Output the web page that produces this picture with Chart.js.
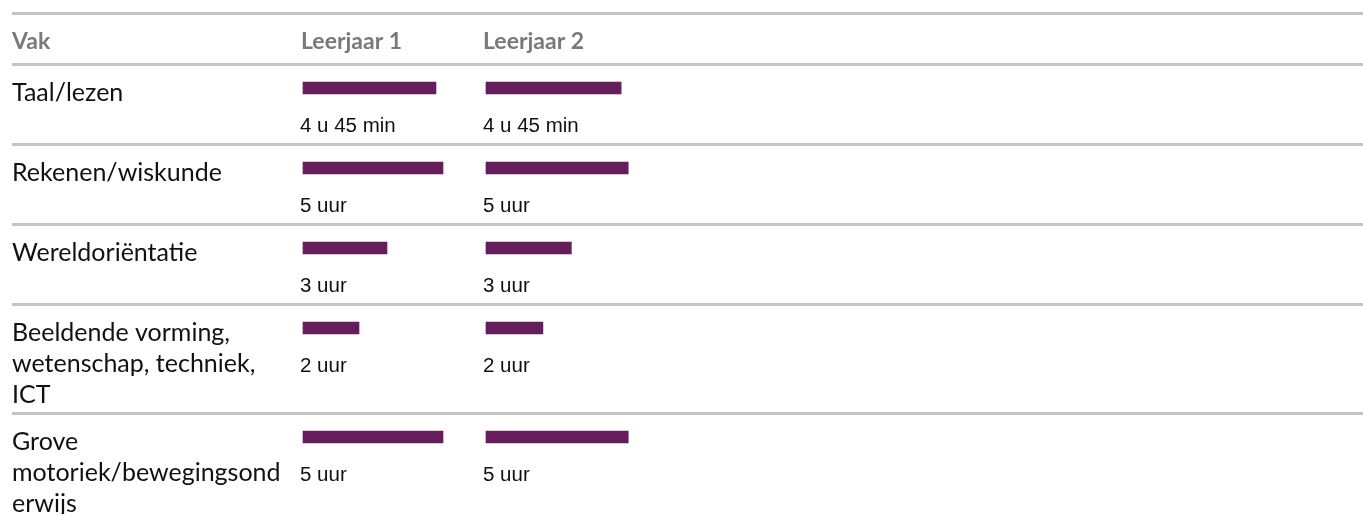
<!DOCTYPE html>
<html lang="nl">
<head>
<meta charset="utf-8">
<title>Uren per vak</title>
<script src="https://cdn.jsdelivr.net/npm/chart.js@4/dist/chart.umd.min.js"></script>
<style>
  html, body { margin: 0; padding: 0; background: #fff; }
  #wrap { position: relative; width: 1363px; height: 514px; }
</style>
</head>
<body>
<div id="wrap"><canvas id="urenChart"></canvas></div>
<script>
// data
const vakken = [
  'Taal/lezen',
  'Rekenen/wiskunde',
  'Wereldoriëntatie',
  ['Beeldende vorming,', 'wetenschap, techniek,', 'ICT'],
  ['Grove', 'motoriek/bewegingsond', 'erwijs']
];
const kolomTitels = ['Vak', 'Leerjaar 1', 'Leerjaar 2'];
const leerjaar1Uren = [4.75, 5, 3, 2, 5];
const leerjaar2Uren = [4.75, 5, 3, 2, 5];

// layout
const W = 1363, H = 514;
const RULE = 3, RULE_COLOR = '#c4c4c4';
const FIRST_RULE = 12, HEADER_H = 48;
const MIN_ROW = 77, LABEL_PAD = 10, LABEL_LH = 31;
const colLeft = [303, 486];
const pxPerHour = [28, 28.45];
const BAR_COLOR = '#661d5b';

function lines(label) {
  return Array.isArray(label) ? label : [label];
}

// row tops and heights from the number of label lines
const rows = [];
let rowTop = FIRST_RULE + RULE + HEADER_H + RULE;
vakken.forEach(v => {
  const h = Math.max(MIN_ROW, LABEL_PAD + lines(v).length * LABEL_LH + 3);
  rows.push({ top: rowTop, h: h });
  rowTop += h + RULE;
});

function duur(uren) {
  const u = Math.floor(uren);
  const min = Math.round((uren - u) * 60);
  return min ? u + ' u ' + min + ' min' : u + ' uur';
}

function xScale(i) {
  return {
    type: 'linear',
    display: false,
    min: -colLeft[i] / pxPerHour[i],
    max: (W - colLeft[i]) / pxPerHour[i]
  };
}

const tabelPlugin = {
  id: 'tabel',
  beforeDatasetsDraw(chart) {
    const ctx = chart.ctx;
    ctx.save();
    ctx.fillStyle = RULE_COLOR;
    ctx.fillRect(12, FIRST_RULE, W - 12, RULE);
    ctx.fillRect(12, FIRST_RULE + RULE + HEADER_H, W - 12, RULE);
    rows.forEach(r => ctx.fillRect(12, r.top + r.h, W - 12, RULE));

    // header
    ctx.fillStyle = '#797979';
    ctx.font = 'bold 23px Lato';
    ctx.textBaseline = 'alphabetic';
    ctx.fillText(kolomTitels[0], 12, 48.5);
    ctx.fillText(kolomTitels[1], colLeft[0] - 2, 48.5);
    ctx.fillText(kolomTitels[2], colLeft[1] - 3, 48.5);

    // row labels
    ctx.fillStyle = '#111';
    ctx.font = '25px Lato';
    vakken.forEach((v, i) => {
      lines(v).forEach((t, j) => {
        ctx.fillText(t, 12, rows[i].top + 35 + j * LABEL_LH);
      });
    });
    ctx.restore();
  },
  afterDatasetsDraw(chart) {
    const ctx = chart.ctx;
    ctx.save();
    ctx.fillStyle = '#111';
    ctx.font = '20.5px "Liberation Sans", Arial, sans-serif';
    ctx.textBaseline = 'alphabetic';
    chart.data.datasets.forEach((ds, d) => {
      chart.getDatasetMeta(d).data.forEach((bar, i) => {
        ctx.fillText(duur(ds.data[i].x), bar.base - 3, bar.y + 43.5);
      });
    });
    ctx.restore();
  }
};

new Chart(document.getElementById('urenChart'), {
  type: 'bar',
  data: {
    datasets: [
      {
        label: kolomTitels[1],
        data: leerjaar1Uren.map((v, i) => ({ x: v, y: rows[i].top + 22 })),
        xAxisID: 'x1',
        backgroundColor: BAR_COLOR
      },
      {
        label: kolomTitels[2],
        data: leerjaar2Uren.map((v, i) => ({ x: v, y: rows[i].top + 22 })),
        xAxisID: 'x2',
        backgroundColor: BAR_COLOR
      }
    ]
  },
  options: {
    indexAxis: 'y',
    responsive: true,
    maintainAspectRatio: false,
    animation: false,
    grouped: false,
    barThickness: 12,
    borderWidth: 0,
    layout: { padding: 0 },
    plugins: {
      legend: { display: false },
      tooltip: { enabled: false }
    },
    scales: {
      x1: xScale(0),
      x2: xScale(1),
      y: { type: 'linear', display: false, offset: false, min: 0, max: H, reverse: true }
    }
  },
  plugins: [tabelPlugin]
});
</script>
</body>
</html>
